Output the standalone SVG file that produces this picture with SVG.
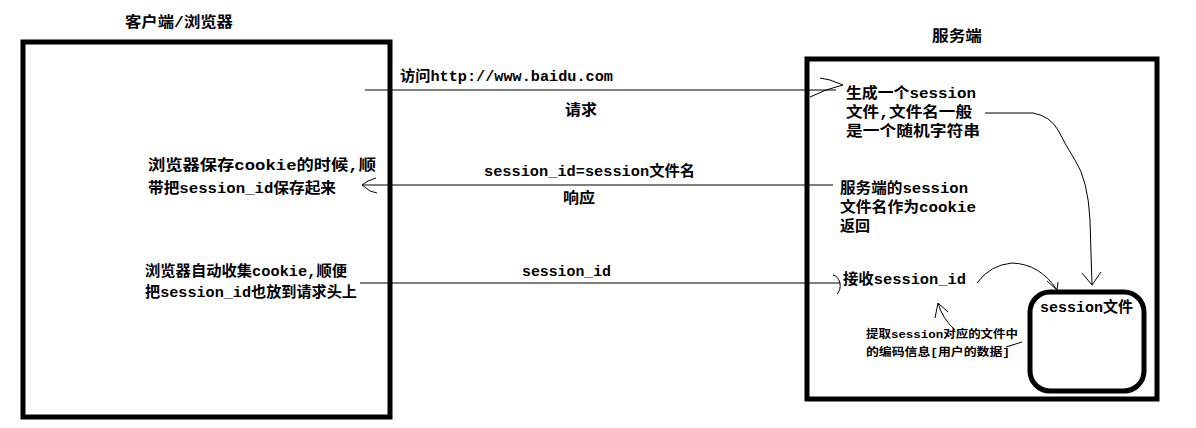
<svg xmlns="http://www.w3.org/2000/svg" width="1196" height="428" viewBox="0 0 1196 428">
<style>
.t{font-family:"Liberation Mono","Noto Sans CJK SC",monospace;font-weight:bold;font-size:15px;fill:#000}
.s{font-size:11px}
.box{fill:none;stroke:#000;stroke-width:5}
.ln{fill:none;stroke:#000;stroke-width:1}
</style>
<rect width="1196" height="428" fill="#fff"/>
<g id="client">
<rect class="box" x="23" y="42" width="367" height="375"/>
<text class="t" x="125" y="27" textLength="108" lengthAdjust="spacingAndGlyphs">客户端/浏览器</text>
<text class="t" x="148" y="170" textLength="228" lengthAdjust="spacingAndGlyphs">浏览器保存cookie的时候,顺</text>
<text class="t" x="148" y="193" textLength="188" lengthAdjust="spacingAndGlyphs">带把session_id保存起来</text>
<text class="t" x="145" y="276" textLength="202" lengthAdjust="spacingAndGlyphs">浏览器自动收集cookie,顺便</text>
<text class="t" x="145" y="297" textLength="212" lengthAdjust="spacingAndGlyphs">把session_id也放到请求头上</text>
</g>
<g id="server">
<rect class="box" x="807" y="59" width="350" height="340"/>
<text class="t" x="932" y="41" textLength="50" lengthAdjust="spacingAndGlyphs">服务端</text>
<text class="t" x="846" y="98" textLength="130" lengthAdjust="spacingAndGlyphs">生成一个session</text>
<text class="t" x="846" y="117" textLength="126" lengthAdjust="spacingAndGlyphs">文件,文件名一般</text>
<text class="t" x="846" y="136" textLength="134" lengthAdjust="spacingAndGlyphs">是一个随机字符串</text>
<text class="t" x="840" y="193" textLength="128" lengthAdjust="spacingAndGlyphs">服务端的session</text>
<text class="t" x="840" y="212" textLength="136" lengthAdjust="spacingAndGlyphs">文件名作为cookie</text>
<text class="t" x="840" y="231" textLength="30" lengthAdjust="spacingAndGlyphs">返回</text>
<text class="t" x="843" y="284" textLength="123" lengthAdjust="spacingAndGlyphs">接收session_id</text>
<text class="t s" x="866" y="338" textLength="152" lengthAdjust="spacingAndGlyphs">提取session对应的文件中</text>
<text class="t s" x="866" y="356" textLength="144" lengthAdjust="spacingAndGlyphs">的编码信息[用户的数据]</text>
</g>
<g id="session-file">
<rect class="box" x="1030" y="292" width="114" height="99" rx="20"/>
<text class="t" x="1040" y="312" textLength="93" lengthAdjust="spacingAndGlyphs">session文件</text>
</g>
<g id="connectors">
<line class="ln" x1="365" y1="90" x2="836" y2="90"/>
<polyline class="ln" points="820,78 830,80 843,85 826,90 810,97"/>
<text class="t" x="400" y="81" textLength="213" lengthAdjust="spacingAndGlyphs">访问http://www.baidu.com</text>
<text class="t" x="565" y="115" textLength="32" lengthAdjust="spacingAndGlyphs">请求</text>
<line class="ln" x1="362" y1="185" x2="833" y2="185"/>
<polyline class="ln" points="376,178 368,181 362,185 370,191 377,193"/>
<text class="t" x="484" y="176" textLength="211" lengthAdjust="spacingAndGlyphs">session_id=session文件名</text>
<text class="t" x="563" y="203" textLength="32" lengthAdjust="spacingAndGlyphs">响应</text>
<line class="ln" x1="360" y1="283" x2="840" y2="283"/>
<path class="ln" d="M833,275 Q838,276 840,283 Q841,290 837,294"/>
<text class="t" x="522" y="276" textLength="89" lengthAdjust="spacingAndGlyphs">session_id</text>
<path class="ln" d="M985,113 L1033,113 Q1050,116 1058,130 Q1066,146 1075,160 Q1088,180 1090,220 L1092,285"/>
<polyline class="ln" points="1082,273 1092,285 1101,272"/>
<path class="ln" d="M977,283 Q990,265 1012,263 Q1040,264 1057,290"/>
<polyline class="ln" points="1047,281 1057,290 1058,282"/>
<path class="ln" d="M1022,342 L1006,347 M938,303 Q942,318 955,330"/>
<polyline class="ln" points="935,318 938,303 948,312"/>
</g>
</svg>
